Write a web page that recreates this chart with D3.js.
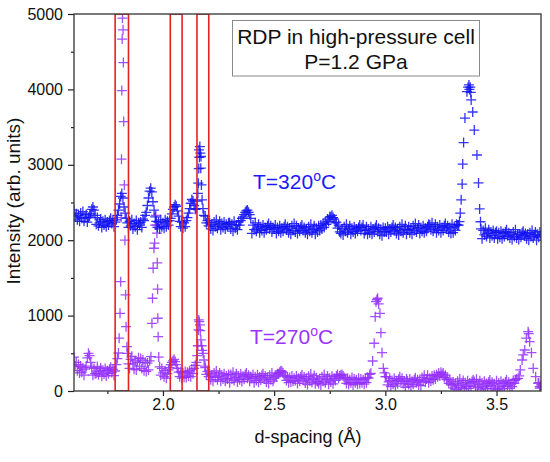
<!DOCTYPE html>
<html>
<head>
<meta charset="utf-8">
<script src="https://cdn.jsdelivr.net/npm/d3@7"></script>
<style>
  body { margin: 0; background: #fff; }
  text { font-family: "Liberation Sans", Arial, sans-serif; }
</style>
</head>
<body>
<div id="chart"></div>
<script>
// d-spacing grid of the scans: 1.600 .. 3.700 A, one reading every 0.005 A
// (null = that stretch is listed point by point in the *Peaks arrays)
const dStart = 1.6;
const dStep = 0.005;

// T=320 C scan, intensity per grid step, one row per 0.1 A
const blueGrid = [
  2400,2310,2350,2270,2330,2250,2360,2290,2380,2250,2300,2340,2240,2300,2320,2350,2410,2440,2400,2330,
  2210,2300,2190,2230,2280,2170,2250,2200,2270,2180,2240,2200,2260,2290,2220,2260,2180,2240,2270,2330,
  2400,2480,2580,2620,2560,2440,2360,2290,2230,2170,2250,2190,2270,2150,2220,2180,2260,2140,2230,2200,
  2240,2170,2280,2260,2330,2370,2460,2560,2650,2690,2640,2510,2400,2310,2250,2170,2240,2150,2270,2180,
  2230,2160,2270,2180,2250,2200,2260,2290,2350,2410,2440,2470,2450,2390,2320,2250,2180,2240,2160,2230,
  2180,2260,2300,2360,2420,2490,2540,2520,2460,2410,null,null,null,null,null,null,null,null,2320,2230,
  2260,2190,2230,2150,2210,2130,2240,2180,2270,2160,2200,2250,2140,2220,2170,2240,2150,2210,2180,2230,
  2230,2150,2210,2120,2250,2160,2200,2140,2240,2200,2260,2290,2310,2340,2370,2390,2400,2370,2340,2290,
  2090,2200,2140,2230,2120,2160,2210,2100,2180,2130,2200,2100,2170,2140,2190,2220,2150,2190,2110,2170,
  2150,2200,2090,2170,2120,2190,2100,2160,2120,2180,2210,2140,2180,2100,2160,2080,2190,2130,2220,2110,
  2190,2090,2160,2120,2180,2200,2130,2170,2100,2150,2080,2180,2120,2210,2100,2140,2190,2080,2160,2110,
  2190,2130,2200,2150,2220,2170,2240,2210,2280,2250,2310,2310,2330,2300,2280,2230,2240,2160,2200,2110,
  2090,2150,2070,2180,2120,2210,2100,2140,2190,2080,2160,2110,2180,2090,2150,2120,2170,2200,2130,2170,
  2200,2090,2130,2180,2080,2150,2100,2180,2080,2150,2110,2170,2200,2120,2160,2080,2140,2060,2170,2110,
  2160,2110,2180,2080,2150,2110,2170,2200,2130,2170,2090,2150,2070,2180,2120,2210,2100,2140,2190,2080,
  2140,2180,2100,2160,2080,2190,2130,2220,2110,2150,2200,2090,2170,2120,2190,2100,2160,2120,2180,2210,
  2200,2140,2230,2120,2160,2210,2100,2180,2130,2200,2100,2170,2130,2190,2220,2150,2190,2110,2170,2090,
  2210,2100,2180,2130,2210,2200,null,null,null,null,null,null,null,null,null,null,null,null,null,null,
  null,null,null,null,null,null,2150,2020,2130,2070,2160,2050,2090,2140,2030,2110,2060,2130,2030,2100,
  2120,2020,2100,2040,2120,2020,2090,2050,2110,2140,2060,2100,2030,2080,2010,2110,2050,2140,2030,2070,
  2010,2080,2040,2100,2120,2060,2090,2020,2080,2000,2100,2050,2130,2030,2070,2110,2000,2080,2040,2110,
  2060
];

// T=320 C, sharp peaks read point by point [d, intensity]
const bluePeaks = [
  [2.150,2420],[2.154,2520],[2.157,2620],[2.159,2756],[2.161,2950],[2.162,3198],[2.164,3100],
  [2.166,3242],[2.168,3154],[2.170,2955],[2.171,3110],[2.173,2733],[2.176,2535],[2.180,2420],[2.184,2330],
  [3.330,2200],[3.3335,2247],[3.337,2360],[3.341,2535],[3.3455,2745],[3.348,3010],[3.352,3295],
  [3.358,3620],[3.367,3970],[3.372,4030],[3.376,4060],[3.378,4000],[3.382,4030],[3.384,3960],
  [3.386,3860],[3.393,3700],[3.400,3460],[3.412,3130],[3.419,2760],[3.424,2415],[3.428,2245]
];

// T=270 C scan, intensity per grid step
const purpleGrid = [
  450,330,380,270,350,240,330,250,310,210,290,330,440,500,470,380,310,210,300,230,
  235,325,215,255,305,195,275,225,300,200,270,230,290,315,245,285,205,265,350,430,
  null,null,null,null,null,null,null,null,500,360,300,420,460,360,290,400,280,380,440,330,
  430,300,410,270,380,260,370,280,400,null,null,null,null,null,null,null,null,320,210,300,
  240,190,270,170,230,280,310,350,380,400,420,390,350,300,250,190,260,170,240,180,
  260,180,250,200,270,190,290,230,300,340,null,null,null,null,null,null,null,null,310,220,
  260,190,230,150,210,130,240,180,265,150,190,240,130,210,160,230,130,200,160,220,
  110,220,160,250,140,180,230,120,200,150,225,125,195,155,215,240,170,210,130,190,
  170,220,110,190,140,215,115,185,145,205,230,160,200,120,180,100,210,150,240,130,
  170,210,190,230,230,250,270,260,240,210,200,140,190,110,180,120,200,130,170,140,
  200,100,170,130,190,215,145,185,105,165,85,195,135,225,115,155,205,95,175,125,
  100,160,80,190,130,220,110,150,200,90,170,120,195,95,165,140,200,220,170,200,
  210,220,200,180,160,100,170,90,150,110,180,80,160,110,150,90,170,100,160,110,
  150,90,170,110,180,170,220,null,null,null,null,null,null,null,null,null,null,null,null,null,
  null,190,80,120,170,60,140,90,165,65,135,95,155,190,130,170,100,130,50,160,
  135,85,160,60,130,90,150,175,110,150,80,140,70,180,130,210,120,160,210,110,
  170,130,200,150,210,160,220,190,240,200,250,220,240,180,210,150,170,100,150,80,
  80,120,40,100,20,130,70,160,50,90,140,30,110,60,135,35,105,65,125,150,
  125,65,155,45,85,135,25,105,55,130,30,100,60,120,145,75,115,35,95,15,
  135,25,105,55,130,30,100,60,120,145,75,115,35,95,60,140,100,150,160,null,
  null,null,null,null,null,null,null,null,null,null,null,null,null,null,null,null,null,null,110,40,
  80
];

// T=270 C, sharp peaks [d, intensity]
const purplePeaks = [
  [1.800,504],[1.803,700],[1.807,1030],[1.810,1450],[1.812,2300],[1.8135,3075],[1.815,3985],
  [1.8165,4667],[1.818,4946],[1.8195,5300],[1.8205,4790],[1.822,4356],[1.8235,3573],[1.8265,2733],
  [1.829,2000],[1.832,1275],[1.834,853],[1.838,588],
  [1.946,455],[1.9505,898],[1.953,1230],[1.956,1628],[1.9595,1893],[1.9625,1960],[1.965,2200],
  [1.968,2330],[1.971,2200],[1.973,2093],[1.9745,1700],[1.976,1350],[1.977,965],[1.9785,720],[1.981,450],
  [2.150,380],[2.154,470],[2.157,600],[2.1595,810],[2.161,942],[2.1635,920],[2.166,876],[2.168,800],
  [2.1705,677],[2.174,600],[2.177,540],[2.181,500],[2.185,411],[2.189,330],
  [2.935,235],[2.943,398],[2.950,633],[2.9545,986],[2.958,1185],[2.962,1210],[2.9655,1230],
  [2.970,1155],[2.9757,1030],[2.980,774],[2.985,508],[2.991,301],[2.996,240],[3.000,190],
  [3.597,168],[3.602,200],[3.607,279],[3.615,411],[3.620,480],[3.627,544],[3.634,700],[3.642,787],
  [3.645,760],[3.649,654],[3.657,508],[3.665,301],[3.676,190],[3.687,102],[3.694,57]
];

// red marker boxes, d-spacing ranges
const boxes = [[1.785, 1.845], [2.033, 2.086], [2.153, 2.206]];

const xMajor = [2.0, 2.5, 3.0, 3.5];
const xMinor = [1.75, 2.25, 2.75, 3.25];
const yMajor = [0, 1000, 2000, 3000, 4000, 5000];
const yMinor = [500, 1500, 2500, 3500, 4500];

const W = 550, H = 462;
const margin = { top: 14, right: 9, bottom: 71, left: 74 };

const svg = d3.select("#chart").append("svg")
  .attr("width", W).attr("height", H);

const x = d3.scaleLinear().domain([1.6, 3.7]).range([margin.left, W - margin.right]);
const y = d3.scaleLinear().domain([0, 5000]).range([H - margin.bottom, margin.top]);

svg.append("clipPath").attr("id", "plotclip")
  .append("rect")
  .attr("x", x(1.6)).attr("y", y(5000))
  .attr("width", x(3.7) - x(1.6)).attr("height", y(0) - y(5000));

const plot = svg.append("g").attr("clip-path", "url(#plotclip)");

// grid values + point-by-point peaks -> [d, I]
const toPoints = (grid, peaks) =>
  grid.map((v, i) => v == null ? null : [dStart + i * dStep, v])
    .filter(p => p)
    .concat(peaks);

const plus = "M-5,0H5M0,-5V5";
const drawSeries = (pts, color) => {
  plot.append("g")
    .selectAll("path")
    .data(pts)
    .join("path")
      .attr("transform", d => `translate(${x(d[0])},${y(d[1])})`)
      .attr("d", plus)
      .attr("fill", "none")
      .attr("stroke", color)
      .attr("stroke-width", 1.3)
      .attr("stroke-opacity", 0.85);
};

drawSeries(toPoints(purpleGrid, purplePeaks), "#9430ff");
drawSeries(toPoints(blueGrid, bluePeaks), "#1010f5");

// red boxes
plot.append("g")
  .selectAll("rect")
  .data(boxes)
  .join("rect")
    .attr("x", d => x(d[0]))
    .attr("y", y(5000))
    .attr("width", d => x(d[1]) - x(d[0]))
    .attr("height", y(0) - y(5000))
    .attr("fill", "none")
    .attr("stroke", "#e32222")
    .attr("stroke-width", 1.6);

// axes
const styleAxis = g => {
  g.select(".domain").remove();
  g.selectAll(".tick line").attr("stroke", "#222").attr("stroke-width", 1.2);
  g.selectAll(".tick text").attr("fill", "#111").style("font-size", "16px")
    .style("font-family", '"Liberation Sans", Arial, sans-serif');
};

svg.append("g")
  .attr("transform", `translate(0,${y(0)})`)
  .call(d3.axisBottom(x).tickValues(xMajor).tickFormat(d3.format(".1f")).tickSize(5).tickPadding(3))
  .call(styleAxis);
svg.append("g")
  .attr("transform", `translate(0,${y(0)})`)
  .call(d3.axisBottom(x).tickValues(xMinor).tickFormat("").tickSize(3))
  .call(styleAxis);

svg.append("g")
  .attr("transform", `translate(${x(1.6)},0)`)
  .call(d3.axisLeft(y).tickValues(yMajor).tickFormat(d3.format("d")).tickSize(6).tickPadding(5))
  .call(styleAxis);
svg.append("g")
  .attr("transform", `translate(${x(1.6)},0)`)
  .call(d3.axisLeft(y).tickValues(yMinor).tickFormat("").tickSize(3))
  .call(styleAxis);

// frame
svg.append("rect")
  .attr("x", x(1.6)).attr("y", y(5000))
  .attr("width", x(3.7) - x(1.6)).attr("height", y(0) - y(5000))
  .attr("fill", "none").attr("stroke", "#333").attr("stroke-width", 1.3);

// axis titles
svg.append("text")
  .attr("x", 308).attr("y", 443)
  .attr("text-anchor", "middle")
  .style("font-size", "18px").attr("fill", "#111")
  .text("d-spacing (Å)");

svg.append("text")
  .attr("transform", "translate(20,201) rotate(-90)")
  .attr("text-anchor", "middle")
  .style("font-size", "19px").attr("fill", "#111")
  .text("Intensity (arb. units)");

// title box
svg.append("rect")
  .attr("x", 232.5).attr("y", 20.5).attr("width", 247).attr("height", 55.5)
  .attr("fill", "#fff").attr("stroke", "#8a8a8a").attr("stroke-width", 1);
svg.append("text")
  .attr("x", 356).attr("y", 43.5).attr("text-anchor", "middle")
  .style("font-size", "21px").attr("fill", "#111")
  .text("RDP in high-pressure cell");
svg.append("text")
  .attr("x", 356).attr("y", 68.5).attr("text-anchor", "middle")
  .style("font-size", "21px").attr("fill", "#111")
  .text("P=1.2 GPa");

// temperature labels
const tempLabel = (tx, ty, num, color) => {
  const t = svg.append("text")
    .attr("x", tx).attr("y", ty)
    .style("font-size", "21px").attr("fill", color);
  t.append("tspan").text("T=" + num);
  t.append("tspan").attr("dy", -8).style("font-size", "14px").text("o");
  t.append("tspan").attr("dy", 8).text("C");
};
tempLabel(253, 188.5, "320", "#1a1aff");
tempLabel(250, 343.5, "270", "#9933ff");
</script>
</body>
</html>
